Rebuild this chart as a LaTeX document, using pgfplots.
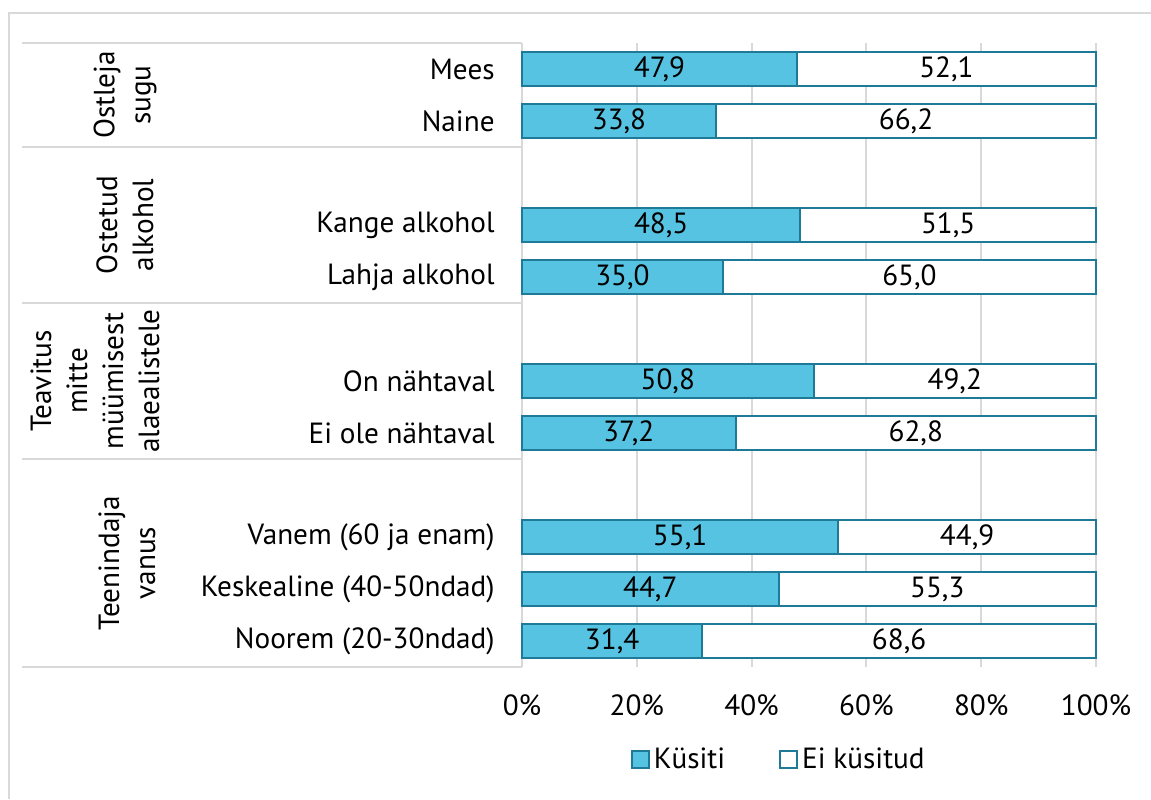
\documentclass[border=0pt]{standalone}
\usepackage{fontspec}
\setmainfont{PT Sans}
\usepackage{pgfplots}
\usepackage{pgfplotstable}
\pgfplotsset{compat=1.18}
\definecolor{barfill}{RGB}{87,195,226}
\definecolor{bardraw}{RGB}{30,122,150}
\definecolor{gridgray}{RGB}{217,217,217}
\newcommand{\lblfont}{\fontsize{14.6}{18}\selectfont}
\pgfplotstableread{
pos k e
11 47.9 52.1
10 33.8 66.2
8 48.5 51.5
7 35.0 65.0
5 50.8 49.2
4 37.2 62.8
2 55.1 44.9
1 44.7 55.3
0 31.4 68.6
}\datatable
\begin{document}
\begin{tikzpicture}
\useasboundingbox (0,0) rectangle (575.5pt,399.5pt);
\draw[gridgray, line width=1pt] (4.5pt,0) -- (4.5pt,393pt) -- (575.5pt,393pt);
\begin{axis}[
  at={(261pt,66pt)}, anchor=south west,
  scale only axis, width=287pt, height=312pt,
  xbar stacked, bar width=17pt, bar shift=0pt,
  xmin=0, xmax=100, ymin=-0.5, ymax=11.5,
  enlargelimits=false,
  axis line style={draw=none},
  xmajorgrids, grid style={gridgray, line width=1pt},
  major tick length=0pt,
  xtick={0,20,40,60,80,100},
  xticklabel={\pgfmathprintnumber{\tick}\%},
  /pgf/number format/assume math mode=true,
  xticklabel style={anchor=center, yshift=-19pt, font=\lblfont},
  ytick={0,1,2,4,5,7,8,10,11},
  yticklabels={Noorem (20-30ndad),Keskealine (40-50ndad),Vanem (60 ja enam),Ei ole nähtaval,On nähtaval\hspace{4pt},Lahja alkohol,Kange alkohol,Naine,Mees},
  yticklabel style={anchor=east, inner sep=0pt, xshift=-13.5pt, font=\lblfont},
  clip=false,
  legend style={at={(0.449,-0.149)}, anchor=center, draw=none, legend columns=2,
    font=\lblfont, /tikz/every even column/.append style={column sep=25pt}},
  legend image code/.code={\draw[#1] (0pt,-4.25pt) rectangle (8.5pt,4.25pt);},
  point meta=explicit,
  nodes near coords={\pgfmathprintnumber[fixed,fixed zerofill,precision=1,use comma]{\pgfplotspointmeta}},
  every node near coord/.append style={anchor=center, font=\lblfont, text=black},
]
\addplot[fill=barfill, draw=bardraw, line width=1pt] table[x=k, y=pos, meta=k] {\datatable};
\addplot[fill=white, draw=bardraw, line width=1pt] table[x=e, y=pos, meta=e] {\datatable};
\legend{Küsiti, Ei küsitud}
\draw[gridgray, line width=1pt] (axis cs:0,11.5) -- ([xshift=-250pt]axis cs:0,11.5);
\draw[gridgray, line width=1pt] (axis cs:0,9.5) -- ([xshift=-250pt]axis cs:0,9.5);
\draw[gridgray, line width=1pt] (axis cs:0,6.5) -- ([xshift=-250pt]axis cs:0,6.5);
\draw[gridgray, line width=1pt] (axis cs:0,3.5) -- ([xshift=-250pt]axis cs:0,3.5);
\draw[gridgray, line width=1pt] (axis cs:0,-0.5) -- ([xshift=-250pt]axis cs:0,-0.5);
\node[rotate=90, align=center, font=\lblfont, inner sep=0pt] at ([xshift=-198.5pt]axis cs:0,10.5) {Ostleja\\sugu};
\node[rotate=90, align=center, font=\lblfont, inner sep=0pt] at ([xshift=-198.5pt]axis cs:0,8) {Ostetud\\alkohol};
\node[rotate=90, align=center, font=\lblfont, inner sep=0pt] at ([xshift=-213.5pt]axis cs:0,5) {Teavitus\\mitte\\müümisest\\alaealistele};
\node[rotate=90, align=center, font=\lblfont, inner sep=0pt] at ([xshift=-197.5pt]axis cs:0,1.5) {Teenindaja\\vanus};
\end{axis}
\end{tikzpicture}
\end{document}
